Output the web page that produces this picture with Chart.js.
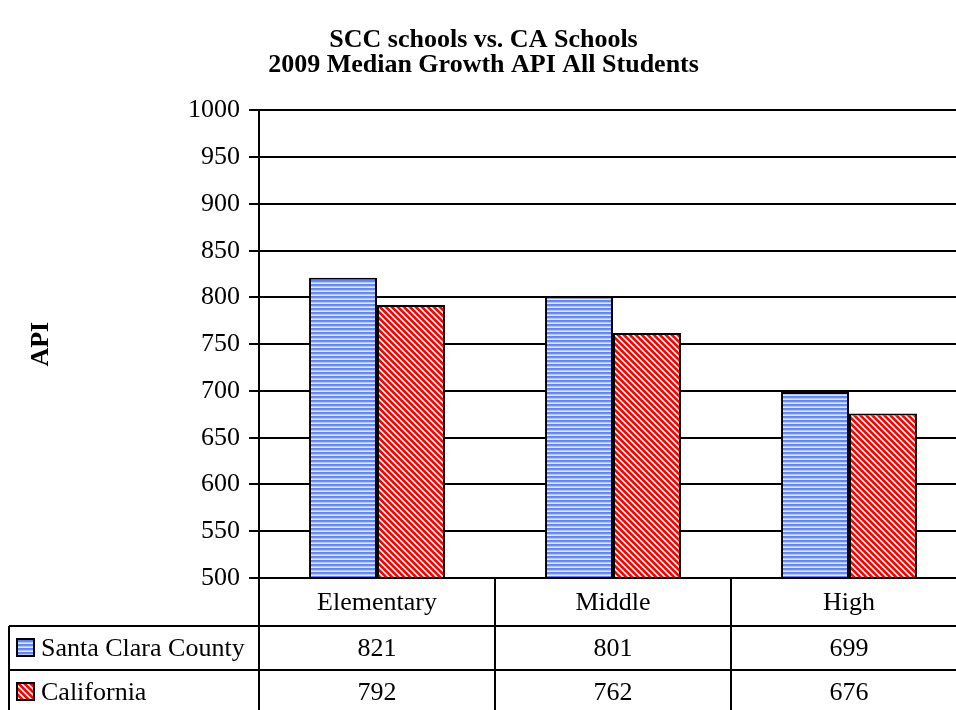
<!DOCTYPE html>
<html>
<head>
<meta charset="utf-8">
<script src="https://cdn.jsdelivr.net/npm/chart.js@4.4.1/dist/chart.umd.min.js"></script>
<style>
  html, body { margin: 0; padding: 0; background: #fff; }
  #wrap { width: 956px; height: 710px; overflow: hidden; position: relative; }
  canvas { display: block; }
</style>
</head>
<body>
<div id="wrap"><canvas id="chart" width="980" height="710"></canvas></div>
<script>
// ---- data ----
const categories = ['Elementary', 'Middle', 'High'];
const seriesNames = ['Santa Clara County', 'California'];
const sccValues = [821, 801, 699];
const caValues = [792, 762, 676];
const yMin = 500;
const yMax = 1000;
const yStep = 50;

const FONT = 'Liberation Serif, Times New Roman, serif';

/**
 * Horizontal blue stripes
 */
function makeStripePattern() {
  const c = document.createElement('canvas');
  c.width = 4; c.height = 4;
  const g = c.getContext('2d');
  const rows = ['#6182ff', '#6b8cff', '#b3c5ff', '#e6ecff'];
  rows.forEach((col, i) => { g.fillStyle = col; g.fillRect(0, i, 4, 1); });
  return g.createPattern(c, 'repeat');
}

/**
 * Red / white diagonal stripes running top-left to bottom-right
 */
function makeDiagonalPattern() {
  const n = 6;
  const c = document.createElement('canvas');
  c.width = n; c.height = n;
  const g = c.getContext('2d');
  for (let y = 0; y < n; y++) {
    for (let x = 0; x < n; x++) {
      const k = ((x - y) % n + n) % n;
      g.fillStyle = k < 3 ? '#ff0000' : (k === 3 || k === 5 ? '#ff9a9a' : '#ffffff');
      g.fillRect(x, y, 1, 1);
    }
  }
  return g.createPattern(c, 'repeat');
}

const patterns = [makeStripePattern(), makeDiagonalPattern()];
const seriesValues = [sccValues, caValues];

// draws the data table under the plot (category header + one row per series)
const dataTable = {
  id: 'dataTable',
  afterDraw(chart) {
    const ctx = chart.ctx;
    const x = chart.scales.x;
    const area = chart.chartArea;
    const top = area.bottom;
    const rowH = [48, 44, 44];
    const rowY = [top, top + rowH[0], top + rowH[0] + rowH[1], top + rowH[0] + rowH[1] + rowH[2]];
    const tableLeft = 9;
    const colW = (x.right - x.left) / categories.length;

    ctx.save();
    ctx.strokeStyle = '#000';
    ctx.lineWidth = 2;
    ctx.beginPath();
    // horizontal lines
    ctx.moveTo(x.left, rowY[0]); ctx.lineTo(x.right, rowY[0]);
    ctx.moveTo(tableLeft, rowY[1]); ctx.lineTo(x.right, rowY[1]);
    ctx.moveTo(tableLeft, rowY[2]); ctx.lineTo(x.right, rowY[2]);
    ctx.moveTo(tableLeft, rowY[3]); ctx.lineTo(x.right, rowY[3]);
    // vertical lines
    ctx.moveTo(tableLeft, rowY[1]); ctx.lineTo(tableLeft, rowY[3]);
    for (let i = 0; i <= categories.length; i++) {
      const cx = x.left + colW * i;
      ctx.moveTo(cx, rowY[0]); ctx.lineTo(cx, rowY[3]);
    }
    ctx.stroke();

    ctx.fillStyle = '#000';
    ctx.font = '26px ' + FONT;
    ctx.textBaseline = 'middle';
    ctx.textAlign = 'center';
    categories.forEach((cat, i) => {
      const cx = x.getPixelForValue(i);
      ctx.fillText(cat, cx, (rowY[0] + rowY[1]) / 2 + 1);
      seriesValues.forEach((vals, s) => {
        ctx.fillText(String(vals[i]), cx, (rowY[s + 1] + rowY[s + 2]) / 2 + 1);
      });
    });

    // legend keys
    ctx.textAlign = 'left';
    seriesNames.forEach((name, s) => {
      const cy = (rowY[s + 1] + rowY[s + 2]) / 2;
      ctx.fillStyle = patterns[s];
      ctx.fillRect(17, cy - 9, 17, 17);
      ctx.strokeRect(17, cy - 9, 17, 17);
      ctx.fillStyle = '#000';
      ctx.fillText(name, 41, cy + 1);
    });
    ctx.restore();
  }
};

new Chart(document.getElementById('chart'), {
  type: 'bar',
  data: {
    labels: categories,
    datasets: seriesNames.map((name, s) => ({
      label: name,
      data: seriesValues[s],
      backgroundColor: patterns[s],
      borderColor: '#000',
      borderWidth: 2,
      borderSkipped: false,
      barPercentage: 1,
      categoryPercentage: 0.576
    }))
  },
  options: {
    responsive: false,
    animation: false,
    devicePixelRatio: 1,
    layout: { padding: { left: 0, right: 13, top: 0, bottom: 0 } },
    plugins: {
      legend: { display: false },
      tooltip: { enabled: false },
      title: {
        display: true,
        text: ['SCC schools vs. CA Schools', '2009 Median Growth API All Students'],
        color: '#000',
        font: { family: FONT, size: 26, weight: 'bold', lineHeight: 0.95 },
        padding: { top: 28, bottom: 33 }
      }
    },
    scales: {
      x: {
        type: 'category',
        grid: { display: false },
        border: { display: false },
        ticks: { display: false },
        afterFit(scale) { scale.height = 132; }
      },
      y: {
        min: yMin,
        max: yMax,
        ticks: {
          stepSize: yStep,
          color: '#000',
          padding: 9,
          font: { family: FONT, size: 26 },
          callback: v => String(v)
        },
        grid: { color: '#000', lineWidth: 2, tickLength: 10 },
        border: { color: '#000', width: 2 },
        title: {
          display: true,
          text: 'API',
          color: '#000',
          font: { family: FONT, size: 26, weight: 'bold' },
          padding: { top: 26, bottom: 0 }
        },
        afterFit(scale) { scale.width = 259; }
      }
    }
  },
  plugins: [dataTable]
});
</script>
</body>
</html>
